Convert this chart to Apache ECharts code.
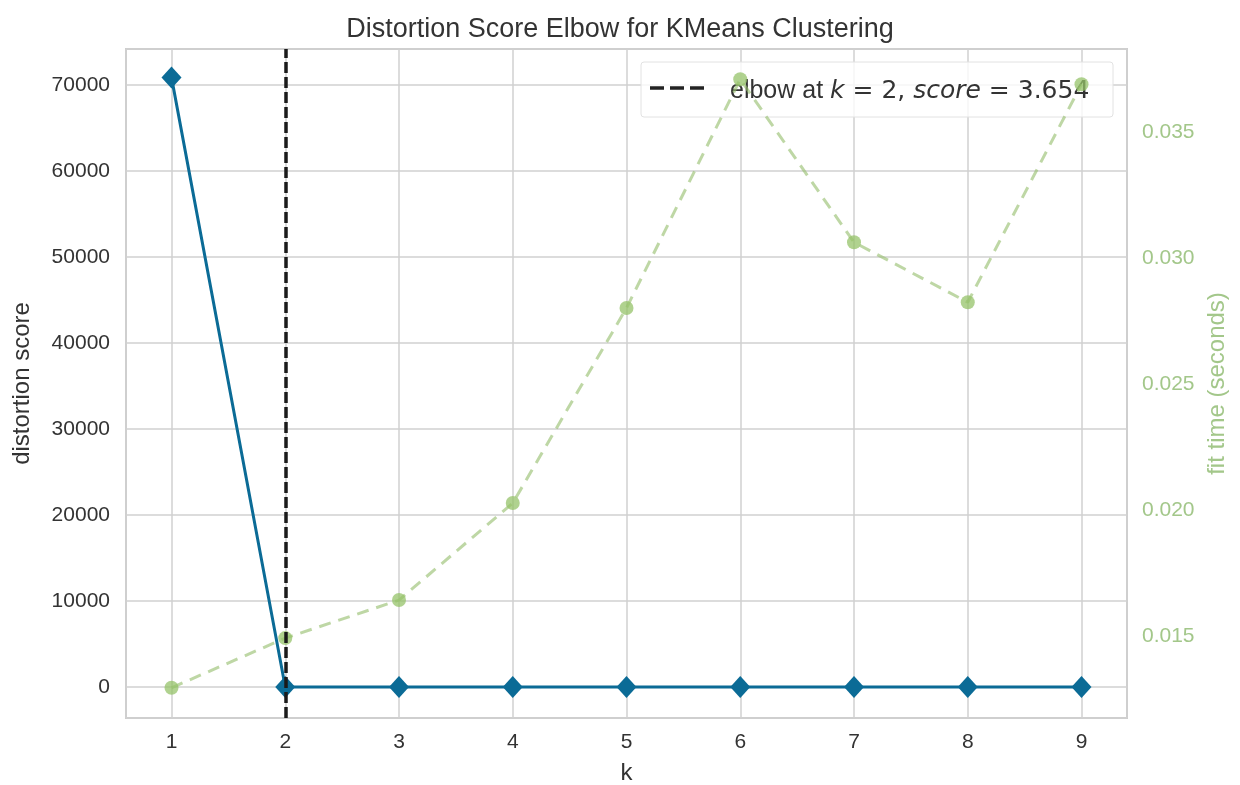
<!DOCTYPE html>
<html>
<head>
<meta charset="utf-8">
<script src="https://cdn.jsdelivr.net/npm/echarts@6/dist/echarts.min.js"></script>
<style>
html,body{margin:0;padding:0;background:#fff;}
#chart{width:1240px;height:785px;}
</style>
</head>
<body>
<div id="chart"></div>
<script>
// ---- data ----
var kValues = [1, 2, 3, 4, 5, 6, 7, 8, 9];
var distortion = [70900, 3.654, 2.9, 2.3, 1.9, 1.6, 1.3, 1.1, 0.9];
var fitTime = [0.01295, 0.01492, 0.01643, 0.02028, 0.02802, 0.03710, 0.03063, 0.02825, 0.03690];
var elbowK = 2;
var elbowScore = 3.654;
var titleText = 'Distortion Score Elbow for KMeans Clustering';
var xName = 'k';
var yLeftName = 'distortion score';
var yRightName = 'fit time (seconds)';

var blue = '#0b6b96';
var greenLine = 'rgba(150,190,110,0.62)';
var greenDot = 'rgba(150,195,105,0.75)';
var greenText = '#a3c78a';
var txt = '#333333';
var grid = '#d0d0d0';
var FONT = '"Liberation Sans", Arial, sans-serif';
var MATH = '"DejaVu Sans", sans-serif';

function pair(xs, ys) { return xs.map(function (x, i) { return [x, ys[i]]; }); }
function isMult(v, step) { var r = v / step; return Math.abs(r - Math.round(r)) < 1e-6; }

var chart = echarts.init(document.getElementById('chart'));
chart.setOption({
  backgroundColor: '#ffffff',
  animation: false,
  title: {
    text: titleText, left: 'center', top: 11,
    textStyle: { fontFamily: FONT, fontSize: 27, fontWeight: 'normal', color: txt }
  },
  grid: { left: 126, right: 113, top: 49, bottom: 67, outerBoundsMode: 'none', containLabel: false,
    show: true, borderColor: '#cccccc', borderWidth: 2, backgroundColor: 'transparent' },
  xAxis: {
    type: 'value', min: 0.6, max: 9.4, minInterval: 1, maxInterval: 1, splitNumber: 9,
    name: xName, nameLocation: 'middle', nameGap: 43,
    nameTextStyle: { fontFamily: FONT, fontSize: 24, color: txt },
    axisLine: { show: false }, axisTick: { show: false },
    axisLabel: { fontFamily: FONT, fontSize: 21, color: txt, margin: 14,
      formatter: function (v) { return isMult(v, 1) ? String(Math.round(v)) : ''; } },
    splitLine: { show: true, lineStyle: { color: grid, width: 1.5 } }
  },
  yAxis: [{
    type: 'value', min: -3600, max: 74200, minInterval: 10000, maxInterval: 10000,
    name: yLeftName, nameLocation: 'middle', nameGap: 92, nameRotate: 90,
    nameTextStyle: { fontFamily: FONT, fontSize: 24, color: txt },
    axisLine: { show: false }, axisTick: { show: false },
    axisLabel: { fontFamily: FONT, fontSize: 21, color: txt, margin: 16,
      formatter: function (v) { return isMult(v, 10000) ? String(Math.round(v)) : ''; } },
    splitLine: { show: true, lineStyle: { color: grid, width: 1.5 } }
  }, {
    type: 'value', min: 0.01175, max: 0.0383, minInterval: 0.005, maxInterval: 0.005,
    position: 'right',
    name: yRightName, nameLocation: 'middle', nameGap: 76, nameRotate: 90,
    nameTextStyle: { fontFamily: FONT, fontSize: 24, color: greenText },
    axisLine: { show: false }, axisTick: { show: false },
    axisLabel: { fontFamily: FONT, fontSize: 21, color: greenText, margin: 15,
      formatter: function (v) { return isMult(v, 0.005) ? v.toFixed(3) : ''; } },
    splitLine: { show: false }
  }],
  graphic: [
    { type: 'rect', z: 1, shape: { x: 641, y: 62, width: 472, height: 55, r: 3 },
      style: { fill: 'rgba(255,255,255,0.8)', stroke: '#e2e2e2', lineWidth: 1 } },
    { type: 'line', z: 1, shape: { x1: 650, y1: 88, x2: 704, y2: 88 },
      style: { stroke: '#222222', lineWidth: 3.5, lineDash: [14, 6] } },
    { type: 'text', z: 1, x: 730, y: 91,
      style: {
        text: '{r|elbow at }{i|k}{m| = 2, }{i|score}{m| = ' + elbowScore.toFixed(3) + '}',
        verticalAlign: 'middle', fill: txt,
        rich: {
          r: { fontFamily: FONT, fontSize: 25, fill: txt, color: txt },
          m: { fontFamily: MATH, fontSize: 25, fill: txt, color: txt },
          i: { fontFamily: MATH, fontStyle: 'italic', fontSize: 25, fill: txt, color: txt }
        }
      } }
  ],
  series: [{
    name: 'distortion', type: 'line', yAxisIndex: 0, z: 4,
    data: pair(kValues, distortion),
    symbol: 'diamond', symbolSize: [20, 22],
    lineStyle: { color: blue, width: 3 },
    itemStyle: { color: blue },
    markLine: {
      silent: true, symbol: ['none', 'none'], label: { show: false },
      lineStyle: { color: '#1a1a1a', width: 3.5, type: [11, 4] },
      data: [{ xAxis: elbowK }]
    }
  }, {
    name: 'fit time', type: 'line', yAxisIndex: 1, z: 3,
    data: pair(kValues, fitTime),
    symbol: 'circle', symbolSize: 14,
    lineStyle: { color: greenLine, width: 3, type: [12, 8] },
    itemStyle: { color: greenDot }
  }]
});
</script>
</body>
</html>
